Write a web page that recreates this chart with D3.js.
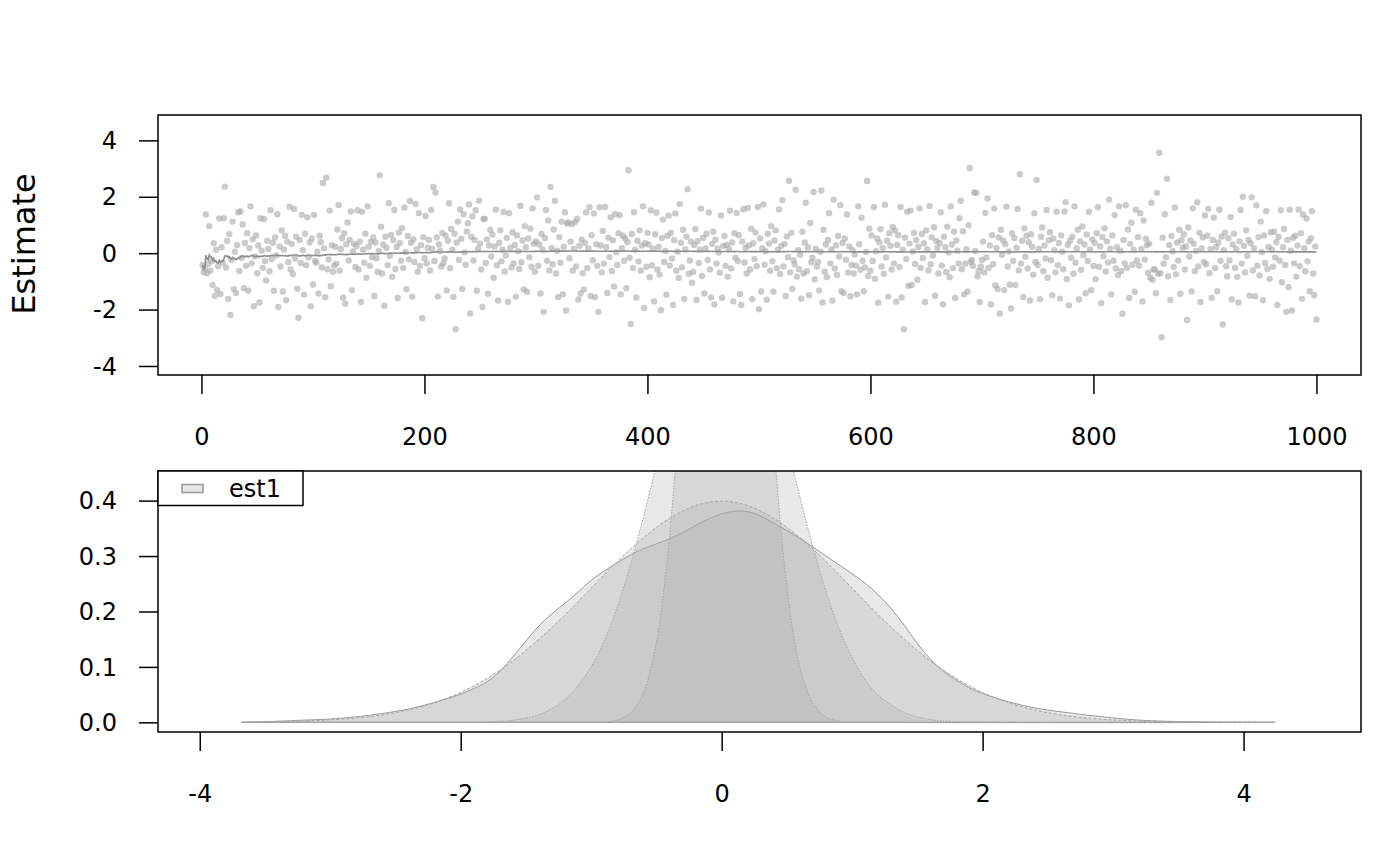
<!DOCTYPE html>
<html>
<head>
<meta charset="utf-8">
<script src="https://d3js.org/d3.v7.min.js"></script>
<style>
  body { margin: 0; background: #ffffff; }
  svg text { font-family: "DejaVu Sans", sans-serif; fill: #000; }
</style>
</head>
<body>
<div class="chart"></div>
<script>
// #region Data
// est1, one value per iteration (1..1000)
const estimates = [
  -0.42,-0.68,-0.55,1.37,-0.71,-0.38,0.96,-0.62,-0.29,-1.13,0.35,-1.52,0.12,-1.3,-0.46,1.23,-1.45,0.21,-0.33,1.24,
  2.36,-0.51,0.43,-1.62,0.67,-2.19,-0.24,1.12,-1.28,0.05,-1.41,0.29,1.45,-0.63,1.48,-0.17,1.02,-1.24,0.36,-0.45,
  0.71,-1.33,0.18,1.66,-0.36,0.49,-1.88,-0.12,0.63,-0.71,0.27,-1.75,1.24,0.09,-0.52,1.21,-0.28,-0.97,0.44,0.15,
  -0.64,1.52,-0.21,0.37,-1.33,0.56,-0.08,1.38,-1.91,0.24,-0.47,0.81,-1.36,0.13,0.62,-1.67,0.41,-0.32,1.65,-0.58,
  0.33,-0.74,1.57,-0.19,0.58,-1.26,-2.29,0.47,-0.35,1.36,0.11,-1.47,0.69,-0.43,1.27,-0.15,0.38,-1.88,0.52,-1.11,
  1.36,-0.28,-0.34,0.05,-1.43,0.62,0.39,-0.51,2.49,0.17,-1.56,2.68,-0.57,-0.22,1.51,-1.17,0.28,-0.66,-0.44,0.23,
  -0.37,0.84,1.71,-0.62,0.15,0.53,-1.58,0.71,-1.79,0.32,1.09,-0.26,0.47,1.48,-1.31,0.06,0.33,-0.49,0.25,1.52,
  -0.58,0.41,-1.73,1.47,0.12,-0.34,0.69,-0.87,1.66,0.23,-0.45,0.41,-0.14,0.56,-1.52,0.38,-0.18,-0.67,0.07,2.76,
  0.94,-0.72,0.31,-1.86,0.58,0.19,-0.43,1.77,-0.09,0.65,-0.84,0.47,1.53,-0.56,0.22,-1.59,0.73,0.36,-0.27,0.89,
  -0.53,1.62,0.04,-1.28,0.61,-0.22,1.85,0.37,-1.54,0.49,-0.31,1.75,0.14,-0.66,1.42,-0.45,0.28,-2.31,0.57,-0.18,
  1.32,-0.36,0.19,0.47,-0.61,1.53,0.15,2.35,-0.28,2.15,0.56,-1.54,0.31,0.08,-0.47,0.72,-0.36,-0.19,0.63,-1.32,
  0.44,1.77,-0.53,0.86,0.12,-1.55,0.69,-2.70,0.38,1.12,-0.24,1.55,0.51,-1.27,1.38,0.03,-0.41,0.77,1.06,1.73,
  -2.14,0.58,1.31,-0.26,0.47,1.52,-1.33,0.16,1.86,0.34,-0.58,-1.91,1.21,1.22,-0.35,0.49,-1.44,0.27,0.83,-0.12,
  0.66,-0.87,0.24,1.55,-0.43,-1.68,0.37,0.81,-0.29,0.13,1.46,-0.65,-0.08,0.54,-1.72,1.42,0.19,-0.51,0.74,-0.36,
  0.29,-1.54,0.63,0.07,-0.56,1.68,-0.32,0.45,-1.29,0.96,0.21,-1.37,0.52,-0.14,0.87,-0.48,1.59,0.33,-0.66,0.42,
  1.98,-0.45,0.31,-1.43,0.68,0.12,-2.08,0.54,1.53,-0.27,1.16,-0.61,2.35,0.18,-0.39,0.84,1.86,-0.72,0.09,-1.56,
  0.57,-0.34,1.12,-1.46,0.23,1.45,-2.03,1.05,1.09,-0.18,0.41,1.03,-0.62,0.15,1.1,-0.47,1.21,-1.64,0.26,-1.43,
  0.48,-0.71,-1.29,0.36,1.44,-0.53,0.17,1.63,-1.52,0.64,-0.25,1.41,-1.56,0.32,-0.45,-2.08,1.63,0.27,-0.68,0.79,
  -0.37,1.64,0.22,-1.41,0.55,-0.14,1.27,-0.63,0.46,-1.18,1.39,0.03,-0.42,0.71,1.35,-1.46,0.18,0.62,-0.27,0.53,
  -1.24,0.39,2.94,-0.16,-2.51,0.68,-0.53,1.45,0.12,-1.57,0.44,-0.29,0.81,-0.62,0.27,1.66,-1.94,0.35,-0.48,0.72,
  0.31,-0.85,1.52,-0.43,0.16,-1.71,0.67,1.44,-0.58,0.23,-0.76,-2.02,0.54,1.19,-0.31,0.08,-1.47,0.62,1.33,-0.44,
  0.72,-0.19,-1.84,0.46,1.41,-0.62,0.05,-0.88,1.74,0.37,-0.51,0.83,-1.62,0.14,0.58,2.27,-0.73,-0.26,0.41,-1.05,
  -0.67,0.29,0.86,-1.66,0.43,-0.35,0.12,1.58,-0.81,0.55,-1.43,0.17,0.69,-0.24,1.44,-0.58,-1.57,0.33,0.76,-1.82,
  0.48,-0.37,0.17,0.02,-0.69,1.34,-1.58,0.26,0.61,-0.45,0.29,-0.83,0.15,1.51,-0.54,0.38,-1.71,0.71,-0.16,1.43,
  -0.28,0.64,-1.45,-1.84,0.41,1.56,-0.33,0.19,-0.72,1.6,0.27,-0.58,0.87,-1.63,0.35,-0.21,0.73,-0.46,1.64,-1.99,
  0.52,-1.36,0.18,1.73,-0.41,0.07,-1.65,0.69,0.34,-0.62,0.96,-0.29,-1.37,0.45,0.81,-0.53,0.12,1.55,-0.74,0.26,
  1.88,-0.47,0.33,-1.52,0.59,-0.14,2.57,-0.68,0.72,-1.26,-0.25,-0.39,2.25,-0.83,0.11,-0.57,-0.06,-1.61,0.76,-0.72,
  0.38,1.79,-0.64,0.21,-1.49,1.07,-0.32,-0.16,2.17,-0.93,0.16,-0.48,-0.31,-1.32,0.05,2.22,-1.75,0.83,-0.66,0.31,
  -0.85,0.47,1.42,-0.36,0.13,-1.68,1.9,-0.54,0.28,-0.77,0.61,-0.12,1.71,-1.35,0.36,-1.41,0.52,-0.23,1.37,-0.68,
  0.24,-1.53,-0.42,0.11,-0.72,-0.05,-0.44,-1.46,1.66,0.32,-0.59,1.26,-0.27,-1.35,-0.51,0.04,2.56,-0.81,0.87,-0.62,
  0.63,-0.28,1.64,-0.91,0.07,0.52,-1.76,0.39,0.85,-0.47,0.18,-0.73,1.72,-0.15,0.44,-1.54,0.71,0.26,-0.58,0.93,
  -0.36,0.81,-1.72,0.29,0.64,-0.49,1.64,-1.57,0.12,-2.70,0.55,-0.21,1.47,-1.16,0.34,1.51,-1.13,0.06,0.72,-0.38,
  0.47,-0.94,0.23,1.59,-0.52,0.68,-0.17,0.35,-1.73,0.81,0.14,-0.61,1.67,-0.39,0.56,-0.08,0.92,-1.51,0.43,0.19,
  -0.72,0.36,1.45,-0.44,-1.81,0.58,0.21,-0.67,0.94,0.02,-0.85,1.66,0.31,-0.53,0.77,-1.59,0.45,0.09,-0.36,1.24,
  1.86,-0.57,0.78,-1.46,-0.37,0.14,-1.37,0.99,3.02,-0.31,-0.24,-0.45,2.15,0.08,2.14,-0.82,-0.63,-1.73,-0.48,-0.24,
  0.41,-0.68,1.43,-0.15,1.94,-0.52,0.27,-1.82,0.64,-0.39,1.58,-1.14,0.18,-1.27,0.56,-2.14,0.83,-0.06,0.45,-1.31,
  0.32,1.65,-0.47,0.06,-1.12,-1.96,0.71,-0.28,0.54,-1.13,0.19,1.57,-0.61,2.8,-0.37,0.44,-1.55,0.88,-0.13,0.62,
  -0.54,0.39,-1.68,0.67,0.23,-0.76,1.42,-0.31,2.6,-0.42,0.15,-1.63,0.58,0.91,-0.64,0.27,-0.19,1.53,-0.87,0.46,
  0.74,-0.25,-1.49,0.52,0.11,-0.68,1.47,-0.43,0.36,-1.61,0.63,0.05,-0.57,1.48,1.81,-0.92,0.29,-1.85,0.44,-0.16,
  0.58,-0.73,1.66,-0.34,0.17,0.83,-1.64,0.42,-0.59,0.95,-0.07,0.31,-1.42,0.66,-0.28,1.47,0.13,-1.31,0.49,-0.45,
  0.36,-0.92,0.71,1.63,-0.48,0.24,-1.77,0.57,-0.11,0.88,-0.65,0.42,-0.33,1.9,0.16,-1.46,0.63,-0.27,1.35,-0.54,
  0.21,-0.78,1.66,0.09,-0.63,-2.15,0.47,-0.36,1.7,-0.52,0.84,-1.59,0.33,1.08,-0.41,0.12,-1.37,1.54,-0.26,0.57,
  -0.44,1.42,0.15,-1.71,1.16,-0.23,0.51,0.28,-0.69,0.34,-0.87,1.79,-0.94,-0.58,-0.57,-1.42,2.14,-0.73,3.56,-0.71,
  -2.98,0.55,-0.37,1.38,-0.14,2.64,-0.82,0.29,-1.66,0.61,0.07,-0.49,1.62,-0.75,0.38,-0.26,0.83,-1.44,0.46,0.19,
  0.67,-0.58,0.24,-2.37,0.91,-0.12,0.45,-1.36,1.59,0.33,-0.64,0.08,1.81,-0.47,0.72,-1.73,0.17,0.56,-0.31,1.34,
  -0.39,0.62,1.58,-0.71,0.14,-1.58,0.47,1.26,-0.53,0.21,-1.35,0.38,1.54,-0.27,0.59,-2.53,0.11,0.73,-0.46,-0.82,
  0.53,-0.26,1.28,-1.64,0.31,0.69,-0.52,0.15,-0.84,-1.75,0.42,1.53,-0.37,2.0,0.26,-0.68,0.81,-0.09,0.47,-1.51,
  0.35,1.98,-0.61,0.18,-1.53,1.7,-0.44,0.57,-0.79,1.12,0.04,-1.67,0.63,-0.35,1.49,-0.56,0.22,-0.91,0.74,0.13,
  -0.48,0.76,-0.15,0.39,-1.84,0.58,-0.27,1.52,-1.03,0.21,0.86,-0.42,-2.08,0.47,-1.21,1.54,0.09,-2.03,0.55,-0.36,
  0.62,-0.83,0.27,1.55,-0.46,0.71,-1.62,1.37,0.18,-0.64,1.23,-0.29,0.41,-1.35,0.53,1.49,-0.72,-1.49,0.24,-2.35
];

// density of est1 (solid outline)
const kdeX = [-3.68,-3.4,-3.2,-3.0,-2.8,-2.6,-2.4,-2.2,-2.0,-1.9,-1.8,-1.7,-1.6,-1.5,-1.4,-1.3,-1.2,-1.1,-1.0,-0.9,-0.8,-0.7,-0.6,-0.5,-0.4,-0.3,-0.2,-0.1,0.0,0.1,0.2,0.3,0.4,0.5,0.6,0.7,0.8,0.9,1.0,1.1,1.2,1.3,1.4,1.5,1.6,1.7,1.8,1.9,2.0,2.2,2.4,2.6,2.8,3.0,3.2,3.4,3.6,3.8,4.0,4.24];
const kdeY = [0,0.002,0.004,0.006,0.010,0.016,0.024,0.036,0.051,0.061,0.073,0.092,0.118,0.147,0.174,0.196,0.215,0.235,0.256,0.273,0.288,0.302,0.313,0.322,0.331,0.342,0.355,0.367,0.376,0.381,0.380,0.372,0.359,0.346,0.332,0.316,0.300,0.284,0.268,0.251,0.230,0.205,0.175,0.142,0.114,0.092,0.076,0.062,0.052,0.037,0.026,0.019,0.013,0.008,0.004,0.002,0.001,0.0005,0.0002,0];

// reference curve, widest (dashed outline)
const normX = [-3.68,-3.4,-3.2,-3.0,-2.8,-2.6,-2.4,-2.2,-2.0,-1.8,-1.6,-1.4,-1.2,-1.0,-0.8,-0.6,-0.4,-0.2,0.0,0.2,0.4,0.6,0.8,1.0,1.2,1.4,1.6,1.8,2.0,2.2,2.4,2.6,2.8,3.0,3.2,3.4,3.6,3.8,4.0,4.24];
const normY = [0.0005,0.0012,0.0024,0.0044,0.0079,0.0136,0.0224,0.0355,0.054,0.079,0.111,0.150,0.194,0.242,0.290,0.333,0.368,0.391,0.399,0.391,0.368,0.333,0.290,0.242,0.194,0.150,0.111,0.079,0.054,0.0355,0.0224,0.0136,0.0079,0.0044,0.0024,0.0012,0.0006,0.0003,0.0001,0];

// reference curve, middle width (dotted outline)
const midX = [-3.68,-1.8,-1.6,-1.4,-1.2,-1.0,-0.9,-0.8,-0.7,-0.6,-0.5,-0.4,-0.3,-0.2,-0.1,0.0,0.1,0.2,0.3,0.4,0.5,0.6,0.7,0.8,0.9,1.0,1.1,1.2,1.4,1.6,1.8,4.24];
const midY = [0,0.001,0.004,0.014,0.041,0.100,0.147,0.208,0.283,0.370,0.465,0.561,0.650,0.724,0.775,0.797,0.788,0.749,0.683,0.598,0.503,0.407,0.316,0.236,0.169,0.117,0.077,0.049,0.018,0.005,0.0014,0];

// reference curve, narrowest (dotted outline)
const innerX = [-3.68,-1.0,-0.9,-0.8,-0.7,-0.6,-0.5,-0.45,-0.4,-0.35,-0.3,-0.2,-0.1,0.0,0.1,0.2,0.3,0.35,0.4,0.45,0.5,0.55,0.6,0.7,0.8,0.9,1.0,4.24];
const innerY = [0,0.0002,0.0009,0.0042,0.0163,0.053,0.145,0.225,0.334,0.475,0.646,1.050,1.435,1.649,1.593,1.293,0.883,0.683,0.507,0.359,0.244,0.159,0.099,0.034,0.0097,0.0023,0.0005,0];

const indexTicks = [0, 200, 400, 600, 800, 1000];
const estimateTicks = [-4, -2, 0, 2, 4];
const valueTicks = [-4, -2, 0, 2, 4];
const densityTicks = [0.0, 0.1, 0.2, 0.3, 0.4];
const legendLabels = ["est1"];
const yTitle = "Estimate";
// #endregion

const W = 1400, H = 866;
const fillGrey = "#a9a9a9";
const svg = d3.select(".chart").append("svg")
  .attr("width", W).attr("height", H)
  .attr("viewBox", `0 0 ${W} ${H}`);

// #region Top panel: trace of estimates
const boxTop = { left: 158, right: 1361, top: 115, bottom: 375 };
const xTop = d3.scaleLinear().domain([-38.96, 1039.96]).range([boxTop.left, boxTop.right]);
const yTop = d3.scaleLinear().domain([-4.32, 4.9]).range([boxTop.bottom, boxTop.top]);

svg.append("clipPath").attr("id", "clipTop")
  .append("rect").attr("x", boxTop.left).attr("y", boxTop.top)
  .attr("width", boxTop.right - boxTop.left).attr("height", boxTop.bottom - boxTop.top);

const gTop = svg.append("g").attr("clip-path", "url(#clipTop)");
gTop.selectAll("circle")
  .data(estimates)
  .enter().append("circle")
  .attr("cx", (d, i) => xTop(i + 1))
  .attr("cy", d => yTop(d))
  .attr("r", 3.2)
  .attr("fill", fillGrey)
  .attr("fill-opacity", 0.6);

// running mean of the estimates
const cum = d3.cumsum(estimates);
const runMean = Array.from(cum, (s, i) => s / (i + 1));
gTop.append("path")
  .datum(runMean)
  .attr("fill", "none")
  .attr("stroke", "#8e8e8e")
  .attr("stroke-width", 1.6)
  .attr("d", d3.line().x((d, i) => xTop(i + 1)).y(d => yTop(d)));

svg.append("rect")
  .attr("x", boxTop.left).attr("y", boxTop.top)
  .attr("width", boxTop.right - boxTop.left).attr("height", boxTop.bottom - boxTop.top)
  .attr("fill", "none").attr("stroke", "#000").attr("stroke-width", 1.5);

const gTopX = svg.append("g")
  .attr("transform", `translate(0,${boxTop.bottom})`)
  .call(d3.axisBottom(xTop).tickValues(indexTicks).tickSize(19).tickFormat(d => String(d)));
const gTopY = svg.append("g")
  .attr("transform", `translate(${boxTop.left},0)`)
  .call(d3.axisLeft(yTop).tickValues(estimateTicks).tickSize(19).tickFormat(d => String(d)));
// #endregion

// #region Bottom panel: densities
const boxBot = { left: 158, right: 1361, top: 471, bottom: 732 };
const xBot = d3.scaleLinear().domain([-4.32, 4.9]).range([boxBot.left, boxBot.right]);
const yBot = d3.scaleLinear().domain([-0.0174, 0.4534]).range([boxBot.bottom, boxBot.top]);

svg.append("clipPath").attr("id", "clipBot")
  .append("rect").attr("x", boxBot.left).attr("y", boxBot.top)
  .attr("width", boxBot.right - boxBot.left).attr("height", boxBot.bottom - boxBot.top);

const gBot = svg.append("g").attr("clip-path", "url(#clipBot)");
const curves = [
  { xs: kdeX, ys: kdeY, dash: null, stroke: "#9a9a9a" },
  { xs: normX, ys: normY, dash: "3,2", stroke: "#a4a4a4" },
  { xs: midX, ys: midY, dash: "1.5,1.5", stroke: "#a4a4a4" },
  { xs: innerX, ys: innerY, dash: "1.5,1.5", stroke: "#a4a4a4" }
];
const area = d3.area()
  .x(d => xBot(d[0]))
  .y0(yBot(0))
  .y1(d => yBot(Math.max(0, d[1])))
  .curve(d3.curveCatmullRom.alpha(0.5));

curves.forEach(c => {
  const pts = c.xs.map((x, i) => [x, c.ys[i]]);
  gBot.append("path")
    .datum(pts)
    .attr("d", area)
    .attr("fill", fillGrey)
    .attr("fill-opacity", 0.27)
    .attr("stroke", c.stroke)
    .attr("stroke-width", 1)
    .attr("stroke-dasharray", c.dash);
});

svg.append("rect")
  .attr("x", boxBot.left).attr("y", boxBot.top)
  .attr("width", boxBot.right - boxBot.left).attr("height", boxBot.bottom - boxBot.top)
  .attr("fill", "none").attr("stroke", "#000").attr("stroke-width", 1.5);

const gBotX = svg.append("g")
  .attr("transform", `translate(0,${boxBot.bottom})`)
  .call(d3.axisBottom(xBot).tickValues(valueTicks).tickSize(19).tickFormat(d => String(d)));
const gBotY = svg.append("g")
  .attr("transform", `translate(${boxBot.left},0)`)
  .call(d3.axisLeft(yBot).tickValues(densityTicks).tickSize(19).tickFormat(d3.format(".1f")));

// legend
const gLegend = svg.append("g").attr("class", "legend");
gLegend.append("rect")
  .attr("x", boxBot.left).attr("y", boxBot.top)
  .attr("width", 145).attr("height", 34.5)
  .attr("fill", "#fff").attr("stroke", "#000").attr("stroke-width", 1.5);
legendLabels.forEach((lab, i) => {
  gLegend.append("rect")
    .attr("x", 182).attr("y", 484.5 + i * 34)
    .attr("width", 21).attr("height", 8)
    .attr("fill", fillGrey).attr("fill-opacity", 0.3)
    .attr("stroke", "#9c9c9c").attr("stroke-width", 1.6);
  gLegend.append("text")
    .attr("x", 229).attr("y", 497 + i * 34)
    .attr("font-size", 24)
    .text(lab);
});
// #endregion

// #region Axis styling (R base look)
[gTopX, gTopY, gBotX, gBotY].forEach(g => {
  g.select(".domain").remove();
  g.selectAll(".tick line").attr("stroke", "#000").attr("stroke-width", 1.5);
  g.selectAll(".tick text")
    .attr("font-family", "DejaVu Sans, sans-serif")
    .attr("font-size", 24)
    .attr("fill", "#000");
});
[gTopX, gBotX].forEach(g => {
  g.selectAll(".tick text").attr("y", 53).attr("dy", "0.71em");
});
[gTopY, gBotY].forEach(g => {
  g.selectAll(".tick text").attr("x", -41).attr("dy", "0.34em");
});

svg.append("text")
  .attr("transform", "translate(35,244) rotate(-90)")
  .attr("text-anchor", "middle")
  .attr("font-size", 32)
  .text(yTitle);
// #endregion
</script>
</body>
</html>
